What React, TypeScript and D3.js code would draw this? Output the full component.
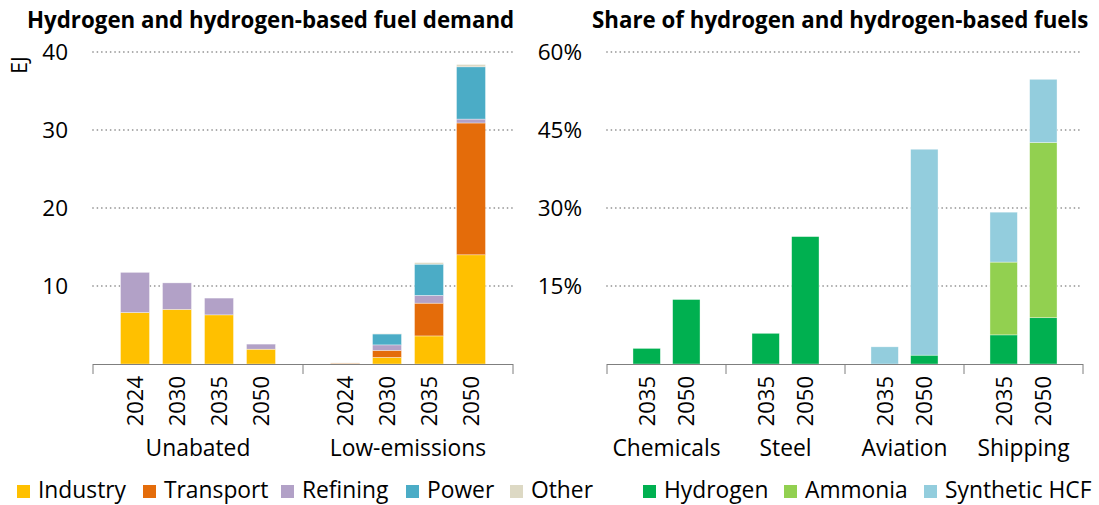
import React from "react";
import * as d3 from "d3";

// ---------- data ----------
const demandGroups = ["Unabated", "Low-emissions"];
const demandYears = ["2024", "2030", "2035", "2050"];
const demandKeys = ["Industry", "Transport", "Refining", "Power", "Other"];
// values per group, per year
const industry = [[6.6, 7.0, 6.3, 1.9], [0.0, 0.85, 3.6, 14.0]];
const transport = [[0, 0, 0, 0], [0.1, 0.9, 4.2, 16.9]];
const refining = [[5.15, 3.4, 2.15, 0.65], [0, 0.7, 1.0, 0.5]];
const power = [[0, 0, 0, 0], [0, 1.4, 4.0, 6.7]];
const other = [[0, 0, 0, 0], [0.05, 0.05, 0.2, 0.3]];
const demandTicks = [10, 20, 30, 40];

const shareSectors = ["Chemicals", "Steel", "Aviation", "Shipping"];
const shareYears = ["2035", "2050"];
const shareKeys = ["Hydrogen", "Ammonia", "Synthetic HCF"];
const hydrogen = [[3.0, 12.4], [5.9, 24.5], [0, 1.7], [5.6, 8.9]];
const ammonia = [[0, 0], [0, 0], [0, 0], [14.0, 33.7]];
const synthetic = [[0, 0], [0, 0], [3.3, 39.6], [9.6, 12.15]];
const shareTicks = [15, 30, 45, 60];

// ---------- styles ----------
const demandColors: Record<string, string> = {
  Industry: "#FFC000",
  Transport: "#E46C0A",
  Refining: "#B2A1C7",
  Power: "#4BACC6",
  Other: "#DDD9C4",
};
const shareColors: Record<string, string> = {
  Hydrogen: "#00B050",
  Ammonia: "#92D050",
  "Synthetic HCF": "#93CDDD",
};
const FONT = "'Open Sans', 'Noto Sans', sans-serif";
const W = 1099;
const H = 505;
const BASE = 364;
const TOP = 52;

type Row = { group: string; year: string; [k: string]: any };

function buildRows(groups: string[], years: string[], keys: string[], series: number[][][]): Row[] {
  const rows: Row[] = [];
  groups.forEach((g, gi) => {
    years.forEach((y, yi) => {
      const r: Row = { group: g, year: y };
      keys.forEach((k, ki) => (r[k] = series[ki][gi][yi]));
      rows.push(r);
    });
  });
  return rows;
}

function Panel(props: {
  groups: string[];
  years: string[];
  keys: string[];
  colors: Record<string, string>;
  rows: Row[];
  x0: number;
  x1: number;
  yMax: number;
  ticks: number[];
  tickFmt: (v: number) => string;
  labelX: number;
}) {
  const { groups, years, keys, colors, rows, x0, x1, yMax, ticks, tickFmt, labelX } = props;
  const outer = d3.scaleBand<string>().domain(groups).range([x0, x1]).padding(0);
  const inner = d3
    .scaleBand<string>()
    .domain(years)
    .range([0, outer.bandwidth()])
    .paddingInner(0.31)
    .paddingOuter(0.655);
  const y = d3.scaleLinear().domain([0, yMax]).range([BASE, TOP]);
  const stacked = d3.stack<Row>().keys(keys)(rows);
  const boundaries = [...groups.map((g) => outer(g) as number), x1];

  return (
    <g>
      {/* gridlines */}
      {ticks.map((t) => (
        <line
          key={"g" + t}
          x1={x0}
          x2={x1}
          y1={y(t)}
          y2={y(t)}
          stroke="#A6A6A6"
          strokeWidth={1.8}
          strokeLinecap="round"
          strokeDasharray="0.01 4.4"
        />
      ))}
      {ticks.map((t) => (
        <text
          key={"t" + t}
          x={labelX}
          y={y(t)}
          dy="0.36em"
          textAnchor="end"
          fontSize={22.5}
          fill="#000"
        >
          {tickFmt(t)}
        </text>
      ))}
      {/* bars */}
      {stacked.map((s) => (
        <g key={s.key} fill={colors[s.key]}>
          {s.map((d, i) => {
            const r = rows[i];
            const h = y(d[0]) - y(d[1]);
            if (h <= 0) return null;
            return (
              <rect
                key={i}
                x={(outer(r.group) as number) + (inner(r.year) as number)}
                y={y(d[1])}
                width={inner.bandwidth()}
                height={h}
                stroke="#ffffff"
                strokeOpacity={0.6}
                strokeWidth={0.6}
              />
            );
          })}
        </g>
      ))}
      {/* axis */}
      <line x1={x0} x2={x1} y1={BASE + 0.5} y2={BASE + 0.5} stroke="#7F7F7F" strokeWidth={1} />
      {boundaries.map((b, i) => (
        <line key={"b" + i} x1={b} x2={b} y1={BASE} y2={BASE + 10} stroke="#7F7F7F" strokeWidth={1} />
      ))}
      {rows.map((r, i) => {
        const cx = (outer(r.group) as number) + (inner(r.year) as number) + inner.bandwidth() / 2;
        return (
          <text
            key={"y" + i}
            transform={`translate(${cx},${376}) rotate(-90)`}
            dy="0.36em"
            textAnchor="end"
            fontSize={22}
            fill="#000"
          >
            {r.year}
          </text>
        );
      })}
      {groups.map((g) => (
        <text
          key={"c" + g}
          x={(outer(g) as number) + outer.bandwidth() / 2}
          y={456}
          textAnchor="middle"
          fontSize={22.8}
          fill="#000"
        >
          {g}
        </text>
      ))}
    </g>
  );
}

const legendItems = [
  { key: "Industry", color: demandColors.Industry, x: 17 },
  { key: "Transport", color: demandColors.Transport, x: 143 },
  { key: "Refining", color: demandColors.Refining, x: 281 },
  { key: "Power", color: demandColors.Power, x: 406 },
  { key: "Other", color: demandColors.Other, x: 510 },
  { key: "Hydrogen", color: shareColors.Hydrogen, x: 643 },
  { key: "Ammonia", color: shareColors.Ammonia, x: 784 },
  { key: "Synthetic HCF", color: shareColors["Synthetic HCF"], x: 924 },
];

export default function App() {
  const demandRows = buildRows(demandGroups, demandYears, demandKeys, [industry, transport, refining, power, other]);
  const shareRows = buildRows(shareSectors, shareYears, shareKeys, [hydrogen, ammonia, synthetic]);
  return (
    <svg
      width={W}
      height={H}
      style={{ position: "absolute", left: 0, top: 0, background: "#fff" }}
      fontFamily={FONT}
    >
      <text x={27} y={28} fontSize={22.3} fontWeight="bold" fill="#000">
        Hydrogen and hydrogen-based fuel demand
      </text>
      <text x={592} y={28} fontSize={22.3} fontWeight="bold" fill="#000">
        Share of hydrogen and hydrogen-based fuels
      </text>
      <text transform="translate(19,65) rotate(-90)" dy="0.36em" textAnchor="middle" fontSize={21} fill="#000">
        EJ
      </text>
      <Panel
        groups={demandGroups}
        years={demandYears}
        keys={demandKeys}
        colors={demandColors}
        rows={demandRows}
        x0={93}
        x1={513}
        yMax={40}
        ticks={demandTicks}
        tickFmt={(v) => String(v)}
        labelX={68}
      />
      <Panel
        groups={shareSectors}
        years={shareYears}
        keys={shareKeys}
        colors={shareColors}
        rows={shareRows}
        x0={607}
        x1={1083}
        yMax={60}
        ticks={shareTicks}
        tickFmt={(v) => v + "%"}
        labelX={582}
      />
      {legendItems.map((it) => (
        <g key={it.key}>
          <rect x={it.x} y={485} width={13} height={13} fill={it.color} />
          <text x={it.x + 21} y={498} fontSize={22.8} fill="#000">
            {it.key}
          </text>
        </g>
      ))}
    </svg>
  );
}
